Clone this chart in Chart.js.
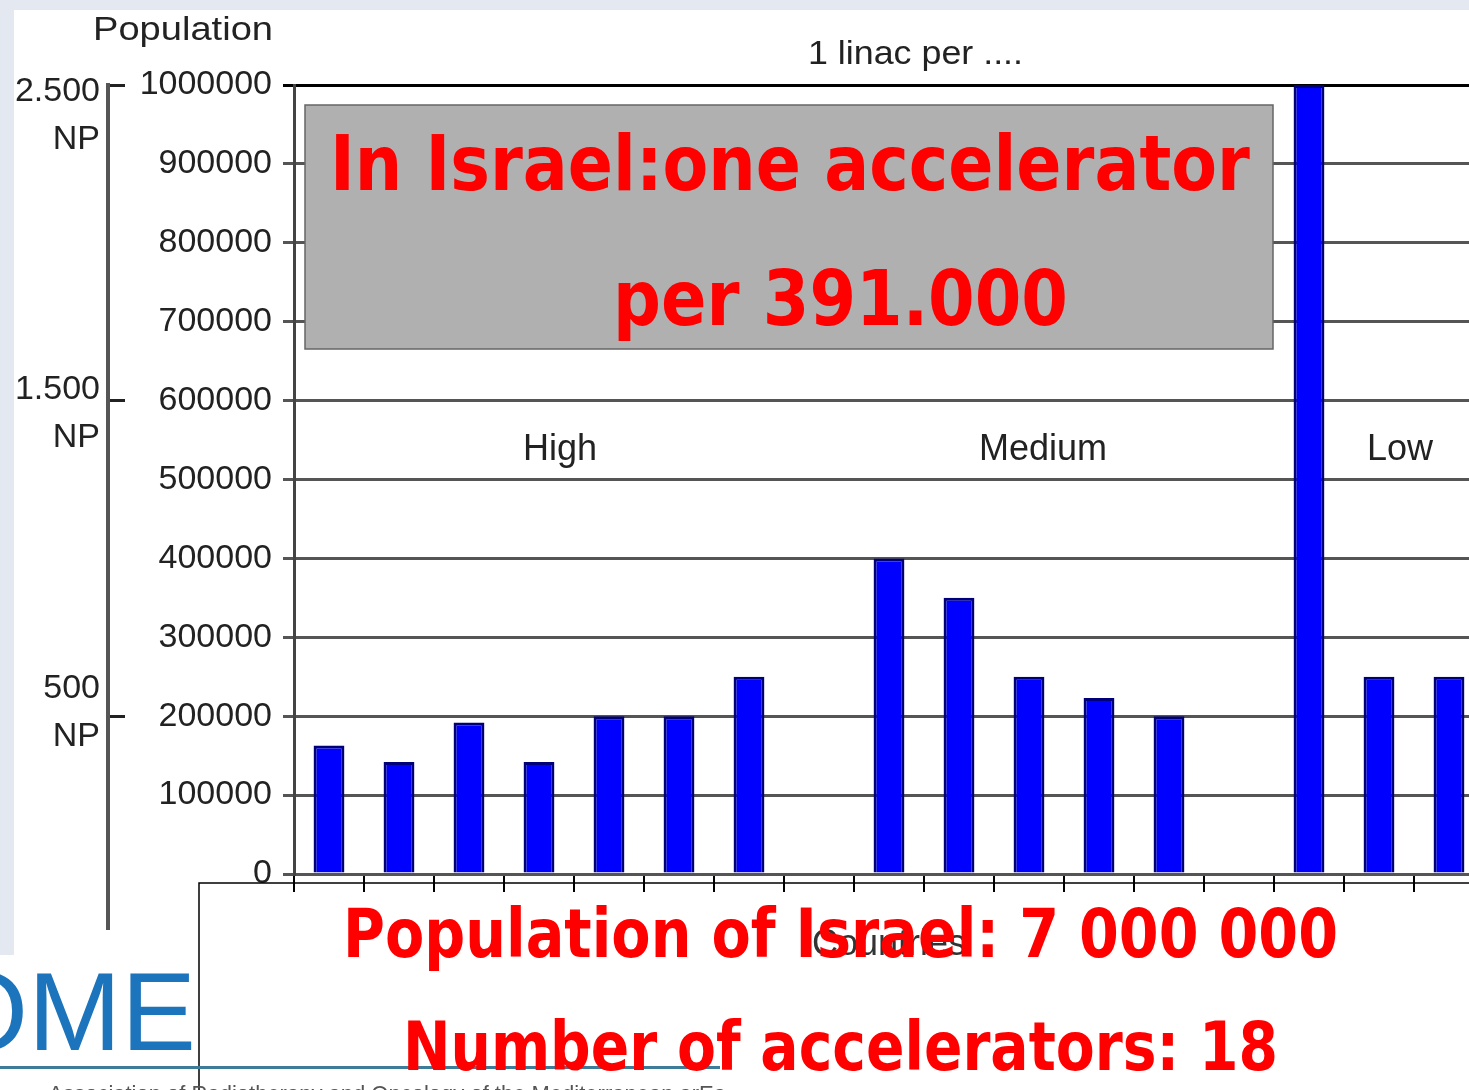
<!DOCTYPE html>
<html>
<head>
<meta charset="utf-8">
<script src="https://cdn.jsdelivr.net/npm/chart.js@4.4.1/dist/chart.umd.min.js"></script>
<style>
  html, body { margin: 0; padding: 0; background: #e4e8f0; overflow: hidden; }
  #wrap { position: relative; width: 1469px; height: 1090px; overflow: hidden; }
  #chart { position: absolute; left: 0; top: 0; }
</style>
</head>
<body>
<div id="wrap"><canvas id="chart" width="1500" height="1090"></canvas></div>
<script>
'use strict'

// Datos
var countries = ['C1', 'C2', 'C3', 'C4', 'C5', 'C6', 'C7', 'C8', 'C9', 'C10', 'C11', 'C12', 'C13', 'C14', 'C15', 'C16', 'C17']
var population = [163000, 142000, 192000, 142000, 200000, 200000, 250000, null, 400000, 350000, 250000, 223000, 200000, null, 1000000, 250000, 250000]
var yMax = 1000000
var yStep = 100000
var npTicks = [500, 1500, 2500]
var groups = ['High', 'Medium', 'Low']

Chart.defaults.font.family = "'Liberation Sans', Arial, sans-serif"

// posicion de los rótulos de grupo, en unidades de categoría
var groupAt = [3.3, 10.2, 15.3]
// desplazamiento vertical de los rótulos NP (imagen pegada, no alineada)
var npLabelDy = [-4, 13, 31]

function fitText(ctx, text, x, w, baseline, font, color) {
  ctx.save()
  ctx.font = font
  ctx.fillStyle = color
  ctx.textAlign = 'left'
  ctx.textBaseline = 'alphabetic'
  var m = ctx.measureText(text).width
  ctx.translate(x, baseline)
  ctx.scale(w / m, 1)
  ctx.fillText(text, 0, 0)
  ctx.restore()
}

var backdrop = {
  id: 'backdrop',
  beforeDraw: function (chart) {
    var ctx = chart.ctx
    ctx.save()
    ctx.fillStyle = '#e4e8f0'
    ctx.fillRect(0, 0, chart.width, chart.height)
    ctx.fillStyle = '#ffffff'
    ctx.fillRect(14, 10, chart.width, chart.height)
    ctx.fillRect(0, 955, 240, 135)
    ctx.restore()
  }
}

var overlay = {
  id: 'overlay',
  afterDraw: function (chart) {
    var ctx = chart.ctx
    var x = chart.scales.x
    var y = chart.scales.y
    var np = chart.scales.np

    // prolongación del eje NP y sus rótulos
    ctx.save()
    ctx.strokeStyle = '#555'
    ctx.lineWidth = 4
    ctx.beginPath()
    ctx.moveTo(np.right, np.bottom - 2)
    ctx.lineTo(np.right, 930)
    ctx.stroke()
    ctx.font = '34px "Liberation Sans"'
    ctx.fillStyle = '#222'
    ctx.textAlign = 'right'
    ctx.textBaseline = 'middle'
    npTicks.forEach(function (v, i) {
      var py = np.getPixelForValue(v) + npLabelDy[i]
      ctx.fillText(v.toLocaleString('de-DE'), np.right - 8, py - 24)
      ctx.fillText('NP', np.right - 8, py + 24)
    })
    ctx.restore()

    // textos grises
    fitText(ctx, 'Population', 93, 180, 40, '34px "Liberation Sans"', '#222')
    fitText(ctx, '1 linac per ....', 808, 215, 64, '34px "Liberation Sans"', '#222')

    ctx.save()
    ctx.font = '36px "Liberation Sans"'
    ctx.fillStyle = '#222'
    ctx.textAlign = 'center'
    ctx.textBaseline = 'middle'
    groups.forEach(function (g, i) {
      ctx.fillText(g, x.getPixelForValue(groupAt[i]), y.getPixelForValue(537000))
    })
    ctx.restore()

    // caja gris con texto rojo
    ctx.save()
    ctx.fillStyle = '#b0b0b0'
    ctx.fillRect(305, 105, 968, 244)
    ctx.strokeStyle = '#666'
    ctx.lineWidth = 1.5
    ctx.strokeRect(305, 105, 968, 244)
    ctx.restore()
    fitText(ctx, 'In Israel:one accelerator', 330, 920, 190, 'bold 76px "DejaVu Sans"', '#ff0000')
    fitText(ctx, 'per 391.000', 613, 455, 325, 'bold 76px "DejaVu Sans"', '#ff0000')

    // caja inferior
    ctx.save()
    ctx.strokeStyle = '#000'
    ctx.lineWidth = 1.5
    ctx.beginPath()
    ctx.moveTo(199, 1090)
    ctx.lineTo(199, 883)
    ctx.lineTo(chart.width, 883)
    ctx.stroke()
    ctx.restore()

    // logo
    ctx.save()
    ctx.font = '112px "Liberation Sans"'
    ctx.fillStyle = '#1c75bc'
    ctx.textAlign = 'right'
    ctx.textBaseline = 'alphabetic'
    ctx.fillText('AROME', 196, 1050)
    ctx.fillStyle = '#3d7c98'
    ctx.fillRect(0, 1066, 720, 3)
    ctx.font = '22px "Liberation Sans"'
    ctx.fillStyle = '#555'
    ctx.fillText('Association of Radiotherapy and Oncology of the Mediterranean arEa', 726, 1101)
    ctx.restore()

    fitText(ctx, 'Population of Israel: 7 000 000', 343, 995, 957, 'bold 68px "DejaVu Sans"', '#ff0000')
    fitText(ctx, 'Number of accelerators: 18', 403, 875, 1070, 'bold 68px "DejaVu Sans"', '#ff0000')
  }
}

var ctx = document.getElementById('chart').getContext('2d')

var chart = new Chart(ctx, {
  type: 'bar',
  data: {
    labels: countries,
    datasets: [{
      label: '1 linac per ....',
      data: population,
      backgroundColor: '#0000ff',
      borderColor: '#000078',
      borderWidth: 3,
      barPercentage: 0.9,
      categoryPercentage: 0.49
    }]
  },
  options: {
    responsive: false,
    animation: false,
    layout: { padding: { top: 85, left: 0, right: 16, bottom: 123 } },
    plugins: {
      legend: { display: false },
      tooltip: { enabled: false }
    },
    scales: {
      x: {
        grid: { display: true, drawOnChartArea: false, drawTicks: true, tickLength: 18, color: '#000', lineWidth: 2 },
        border: { display: false },
        ticks: { display: false },
        title: { display: true, text: 'Countries', color: '#333', font: { size: 36 }, padding: 0 },
        afterFit: function (s) { s.height = 93 }
      },
      y: {
        min: 0,
        max: yMax,
        weight: 0,
        ticks: {
          stepSize: yStep,
          color: '#222',
          font: { size: 34 },
          padding: 11,
          callback: function (v) { return String(v) }
        },
        grid: {
          color: function (c) { return c.tick && c.tick.value === yMax ? '#000' : '#555' },
          lineWidth: 3,
          tickLength: 11
        },
        border: { color: '#444', width: 3 },
        afterFit: function (s) { s.width = 186 }
      },
      np: {
        type: 'linear',
        position: 'left',
        min: 0,
        max: 2500,
        weight: 1,
        afterBuildTicks: function (s) {
          s.ticks = npTicks.map(function (v) { return { value: v } })
        },
        ticks: { display: false },
        grid: { drawOnChartArea: false, tickLength: -17, color: '#222', lineWidth: 3 },
        border: { color: '#555', width: 4 },
        afterFit: function (s) { s.width = 108 }
      }
    }
  },
  plugins: [backdrop, overlay]
})
</script>
</body>
</html>
